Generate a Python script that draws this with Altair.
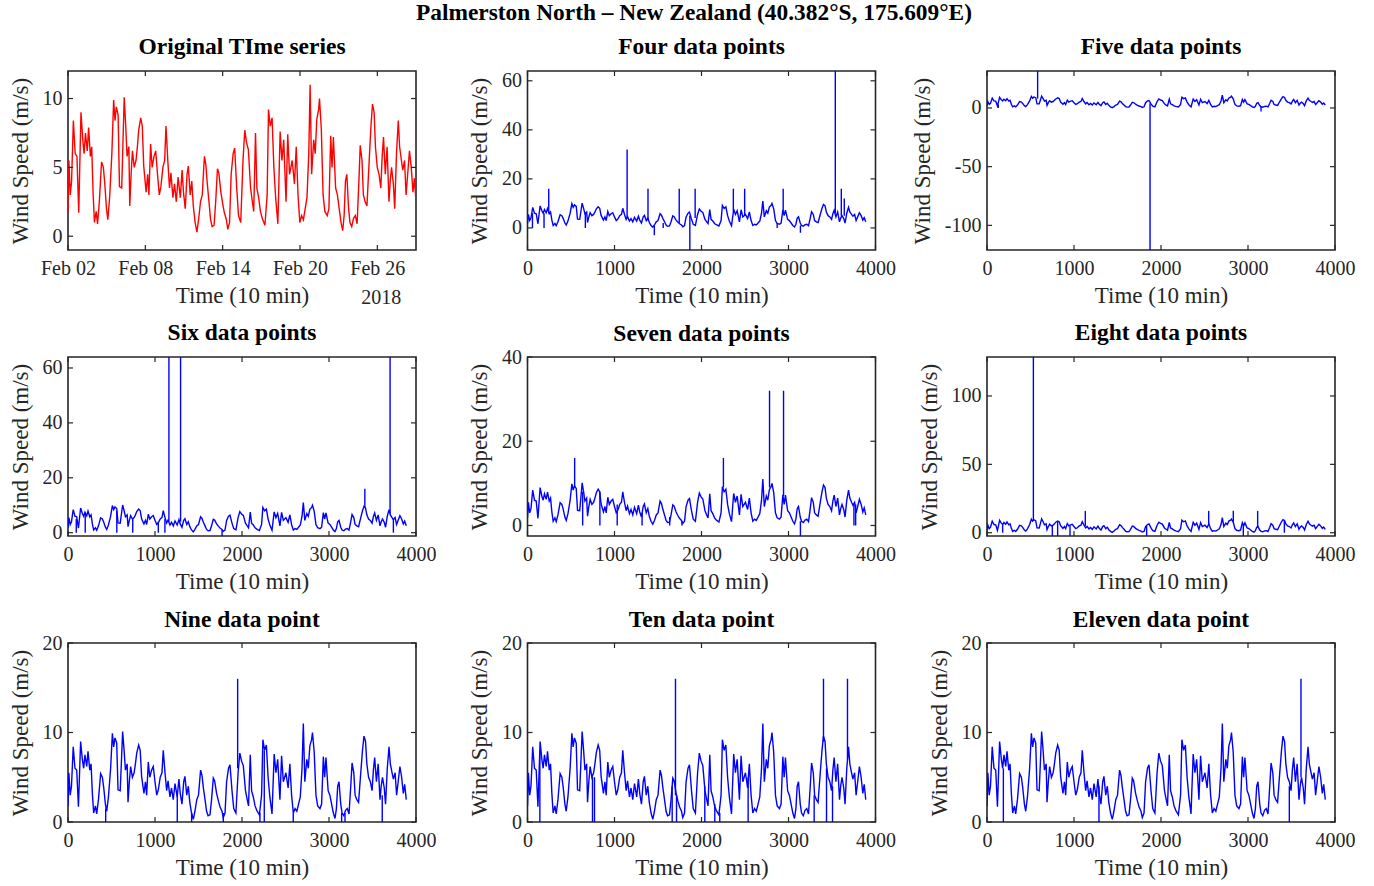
import altair as alt
import pandas as pd

FONT = "Liberation Serif"
INK = "#262626"
W, H = 348, 179

# ---- base wind-speed series (10-min index, m/s) ----
BASE_T = [0, 10, 25, 40, 60, 80, 100, 120, 145, 165, 180, 195, 215, 230, 250, 265, 280, 295, 315, 330,
          350, 375, 395, 410, 430, 445, 465, 490, 510, 525, 540, 560, 575, 600, 615, 628, 645, 660, 680, 690,
          705, 720, 740, 760, 775, 790, 812, 830, 846, 873, 890, 904, 923, 940, 961, 980, 1000, 1020, 1038, 1060,
          1080, 1095, 1115, 1134, 1150, 1172, 1190, 1210, 1230, 1255, 1275, 1290, 1310, 1330, 1344, 1365, 1383, 1400, 1420, 1440,
          1459, 1480, 1500, 1524, 1540, 1555, 1575, 1593, 1610, 1632, 1650, 1670, 1685, 1708, 1730, 1747, 1770, 1785, 1805, 1823,
          1845, 1862, 1885, 1905, 1930, 1955, 1975, 1995, 2015, 2040, 2060, 2075, 2095, 2110, 2130, 2150, 2170, 2200, 2225, 2240,
          2260, 2280, 2300, 2320, 2345, 2370, 2390, 2410, 2436, 2455, 2475, 2505, 2530, 2550, 2570, 2590, 2610, 2630, 2650, 2670,
          2690, 2705, 2722, 2745, 2762, 2780, 2800, 2810, 2830, 2850, 2870, 2896, 2915, 2935, 2950, 2965, 2990, 3010, 3030, 3050,
          3069, 3085, 3100, 3115, 3135, 3150, 3170, 3190, 3210, 3230, 3250, 3265, 3285, 3300, 3320, 3340, 3365, 3385, 3402, 3420,
          3435, 3455, 3475, 3495, 3510, 3525, 3545, 3565, 3586, 3600, 3615, 3635, 3650, 3670, 3690, 3705, 3725, 3740, 3760, 3777,
          3795, 3815, 3835, 3854, 3870, 3888]
BASE_V = [1.8, 5.5, 3.0, 4.0, 8.4, 6.0, 5.8, 1.7, 9.0, 7.0, 6.0, 7.5, 6.2, 7.9, 5.8, 6.5, 3.2, 1.0, 1.8, 0.9,
          2.5, 5.4, 5.0, 3.9, 2.0, 1.2, 2.8, 6.0, 9.9, 8.4, 9.4, 8.8, 3.6, 3.5, 7.0, 10.1, 8.0, 5.8, 6.5, 2.2,
          4.5, 6.2, 5.0, 5.5, 6.5, 7.7, 8.6, 8.0, 5.1, 3.2, 4.5, 3.0, 6.7, 5.0, 5.8, 6.2, 4.5, 3.0, 3.6, 5.0,
          5.5, 8.0, 5.5, 3.5, 4.6, 2.8, 3.8, 2.5, 4.3, 2.8, 4.8, 3.2, 2.0, 4.5, 5.1, 3.0, 4.0, 2.2, 1.0, 0.3,
          1.2, 2.5, 3.0, 5.8, 5.2, 3.9, 2.5, 1.2, 0.7, 0.8, 2.5, 4.9, 4.6, 3.2, 2.3, 1.7, 1.2, 0.5, 1.0, 4.5,
          6.0, 6.4, 3.5, 1.5, 1.0, 5.5, 7.7, 6.8, 6.3, 3.5, 2.5, 1.8, 7.5, 3.5, 2.8, 1.8, 1.3, 0.8, 3.0, 9.2,
          8.0, 8.6, 5.0, 2.8, 0.9, 7.6, 5.5, 7.0, 2.5, 7.4, 4.5, 5.5, 3.8, 6.5, 3.0, 1.0, 1.5, 1.2, 2.0, 2.8,
          6.0, 11.0, 4.5, 7.0, 6.0, 8.5, 9.2, 10.0, 7.8, 3.0, 1.8, 1.5, 2.0, 7.3, 5.0, 7.2, 3.5, 3.0, 2.0, 1.0,
          0.4, 1.5, 4.0, 4.5, 2.0, 1.0, 0.7, 1.3, 1.5, 0.9, 4.0, 6.6, 5.5, 3.0, 2.5, 2.2, 5.5, 8.0, 9.6, 9.0,
          6.5, 5.0, 4.5, 3.5, 5.8, 7.2, 4.5, 6.5, 2.5, 4.0, 5.0, 3.8, 2.0, 6.0, 8.4, 6.5, 5.5, 4.8, 5.5, 3.0,
          4.5, 6.2, 5.0, 3.2, 4.2, 2.5]
assert len(BASE_T) == len(BASE_V)

# ---- injected outliers / dropouts per panel: time, level before, level reached ----
FOUR_T = [244, 1145, 1385, 1744, 1927, 2366, 2496, 2939, 3538, 3607, 3641, 1866, 1458, 3137, 57, 190, 665, 1560, 2870]
FOUR_LO = [6, 4, 3, 2, 4, 7, 5, 7, 6, 5, 5, 5, 1, 1, 6, 6, 6, 2, 2]
FOUR_HI = [16, 32, 16, 16, 16, 16, 16, 16, 64, 16, 12, -9, -3, -2, 0, 0, 0, 0, 0]

FIVE_T = [582, 1874, 3150, 130]
FIVE_LO = [8, 4, 1, 3]
FIVE_HI = [32, -121, -3, 0]

SIX_T = [1160, 1294, 3702, 3412, 1771, 95, 198, 561, 744, 1038, 1114, 3740]
SIX_LO = [4, 4, 7, 9, 1, 5, 7, 8, 5, 4, 5, 5]
SIX_HI = [64, 64, 64, 16, -1.2, 0, 0, 0, 0, 0, 0, 0]

SEVEN_T = [542, 2252, 2782, 2943, 3137, 634, 832, 1031, 1317, 1634, 1775, 3752, 3772]
SEVEN_LO = [9, 9, 9, 7, 1, 8, 8, 5, 3, 2, 1, 5, 5]
SEVEN_HI = [16, 16, 32, 32, -2.5, 0, 0, 0, 0, 0, 0, 0, 0]

EIGHT_T = [533, 1130, 2548, 2831, 3111, 751, 812, 954, 1835, 2946, 3418, 180]
EIGHT_LO = [9, 5, 6, 8, 4, 5, 8, 5, 5, 5, 9, 6]
EIGHT_HI = [128.5, 16, 16, 16, 16, -2.4, -2.4, -2.4, -2.4, -2.4, 0, 0]

NINE_T = [1950, 433, 1256, 1421, 1785, 2206, 2256, 2589, 3145, 3184, 3612]
NINE_LO = [6, 1.5, 3, 1, 1, 1, 8, 1, 1, 1, 3]
NINE_HI = [16, 0, 0, 0, 0, 0, 0, 0, 0, 0, 0]

TEN_T = [1701, 3402, 3678, 142, 747, 770, 1663, 1713, 2038, 2153, 2210, 2536, 3295, 3437, 3506]
TEN_LO = [3, 9, 7, 8, 5, 5, 4, 3, 4, 2, 1, 5, 3, 6, 4]
TEN_HI = [16, 16, 16, 0, 0, 0, 0, 0, 0, 0, 0, 0, 0, 0, 0]

ELEVEN_T = [3609, 188, 1287, 3475]
ELEVEN_LO = [5, 6, 4, 4]
ELEVEN_HI = [16, 0, 0, 0]

TITLES = ["Original TIme series", "Four data points", "Five data points",
          "Six data points", "Seven data points", "Eight data points",
          "Nine data point", "Ten data point", "Eleven data point"]
Y_DOMAINS = [[-1, 12], [-9, 64], [-121, 31.5], [-1.2, 64], [-2.5, 40], [-2.4, 128.5], [0, 20], [0, 20], [0, 20]]
Y_TICKS = [[0, 5, 10], [0, 20, 40, 60], [-100, -50, 0], [0, 20, 40, 60], [0, 20, 40], [0, 50, 100],
           [0, 10, 20], [0, 10, 20], [0, 10, 20]]
X_TICKS_IDX = [0, 1000, 2000, 3000, 4000]
X_TICKS_DATE = [0, 864, 1728, 2592, 3456]   # Feb 02, 08, 14, 20, 26 (144 samples/day)
YEAR_LABEL = ["2018"]

base_df = pd.DataFrame({"t": BASE_T, "v": BASE_V})

LW = 1.4


def panel(i, color, spk=None):
    is_date = i == 0
    xdom = [0, 3888] if is_date else [0, 4000]
    xticks = X_TICKS_DATE if is_date else X_TICKS_IDX
    xs = alt.Scale(domain=xdom, nice=False, zero=False)
    ys = alt.Scale(domain=Y_DOMAINS[i], nice=False, zero=False)
    xaxis_kw = dict(values=xticks, title="Time (10 min)", labelPadding=8, titlePadding=6)
    if is_date:
        xaxis_kw["labelExpr"] = "timeFormat(datetime(2018, 1, 2 + datum.value / 144), '%b %d')"
    else:
        xaxis_kw["labelExpr"] = "'' + datum.value"
    xaxis = alt.Axis(**xaxis_kw)
    yaxis = alt.Axis(values=Y_TICKS[i], title="Wind Speed (m/s)", labelPadding=6, titlePadding=10,
                     labelExpr="'' + datum.value")
    line = alt.Chart(base_df).mark_line(color=color, strokeWidth=LW, clip=True).encode(
        x=alt.X("t:Q", scale=xs, axis=xaxis),
        y=alt.Y("v:Q", scale=ys, axis=yaxis),
    )
    layers = [line]
    if spk is not None:
        sdf = pd.DataFrame({"t": spk[0], "lo": spk[1], "hi": spk[2]})
        layers.append(alt.Chart(sdf).mark_rule(color=color, strokeWidth=LW, clip=True).encode(
            x=alt.X("t:Q", scale=xs, axis=xaxis), y=alt.Y("lo:Q", scale=ys, axis=yaxis), y2="hi:Q"))
    xt = pd.DataFrame({"t": xticks})
    yt = pd.DataFrame({"v": Y_TICKS[i]})
    tk = dict(color=INK, strokeWidth=1.2)
    layers += [
        alt.Chart(xt).mark_rule(**tk).encode(x=alt.X("t:Q", scale=xs, axis=xaxis), y=alt.value(H), y2=alt.value(H - 5)),
        alt.Chart(xt).mark_rule(**tk).encode(x=alt.X("t:Q", scale=xs, axis=xaxis), y=alt.value(0), y2=alt.value(5)),
        alt.Chart(yt).mark_rule(**tk).encode(y=alt.Y("v:Q", scale=ys, axis=yaxis), x=alt.value(0), x2=alt.value(5)),
        alt.Chart(yt).mark_rule(**tk).encode(y=alt.Y("v:Q", scale=ys, axis=yaxis), x=alt.value(W - 5), x2=alt.value(W)),
    ]
    if is_date:
        ydf = pd.DataFrame({"t": [X_TICKS_DATE[-1]], "s": YEAR_LABEL})
        layers.append(alt.Chart(ydf).mark_text(font=FONT, fontSize=20, color=INK, baseline="middle", dx=4).encode(
            x=alt.X("t:Q", scale=xs, axis=xaxis), y=alt.value(H + 48), text="s:N"))
    # top y label overflowing the frame pushes the title up; compensate
    top_overflow = Y_TICKS[i][-1] >= Y_DOMAINS[i][1]
    return alt.layer(*layers).properties(
        width=W, height=H,
        title=alt.TitleParams(TITLES[i], font=FONT, fontSize=23.5, fontWeight="bold", color="#000000",
                              offset=2 if top_overflow else 12),
    )


charts = [
    panel(0, "#ff0000"),
    panel(1, "#0000ff", (FOUR_T, FOUR_LO, FOUR_HI)),
    panel(2, "#0000ff", (FIVE_T, FIVE_LO, FIVE_HI)),
    panel(3, "#0000ff", (SIX_T, SIX_LO, SIX_HI)),
    panel(4, "#0000ff", (SEVEN_T, SEVEN_LO, SEVEN_HI)),
    panel(5, "#0000ff", (EIGHT_T, EIGHT_LO, EIGHT_HI)),
    panel(6, "#0000ff", (NINE_T, NINE_LO, NINE_HI)),
    panel(7, "#0000ff", (TEN_T, TEN_LO, TEN_HI)),
    panel(8, "#0000ff", (ELEVEN_T, ELEVEN_LO, ELEVEN_HI)),
]

chart = alt.concat(
    *charts, columns=3, spacing={"row": 107, "column": 111.5}, bounds="flush",
    title=alt.TitleParams("Palmerston North \u2013 New Zealand (40.382\u00b0S, 175.609\u00b0E)",
                          font=FONT, fontSize=23.4, fontWeight="bold", color="#000000", anchor="middle",
                          offset=9, dx=12),
).properties(
    padding={"left": 8, "top": 0, "right": 8, "bottom": 4},
    background="white",
).configure(font=FONT).configure_view(
    stroke=INK, strokeWidth=1.6
).configure_axis(
    labelFont=FONT, labelFontSize=20, labelColor=INK, titleFont=FONT, titleFontSize=23,
    titleFontWeight="normal", titleColor=INK, grid=False, domain=False, ticks=False,
    labelFlush=False, labelOverlap=False, labelBound=False,
)

chart.save("out.html", embed_options={"renderer": "svg", "actions": False})
